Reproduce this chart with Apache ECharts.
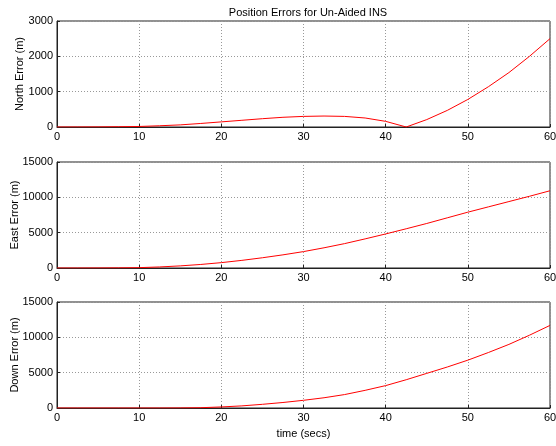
<!DOCTYPE html>
<html>
<head>
<meta charset="utf-8">
<script src="https://cdn.jsdelivr.net/npm/echarts@6/dist/echarts.min.js"></script>
<style>
 html, body { margin: 0; padding: 0; background: #fff; }
 #main { width: 556px; height: 446px; }
</style>
</head>
<body>
<div id="main"></div>
<script>
/** 数据 **/
var time = [0, 2.5, 5, 7.5, 10, 12.5, 15, 17.5, 20, 22.5, 25, 27.5, 30, 32.5, 35, 37.5, 40, 42.5, 45, 47.5, 50, 52.5, 55, 57.5, 60];
var northErr = [0, 1, 3, 8, 15, 35, 60, 100, 145, 190, 235, 275, 300, 310, 300, 255, 160, 0, 210, 470, 780, 1140, 1540, 2000, 2500];
var eastErr = [0, 0, 5, 20, 50, 150, 300, 500, 760, 1080, 1450, 1860, 2320, 2860, 3450, 4120, 4820, 5550, 6300, 7100, 7900, 8650, 9400, 10150, 10930];
var downErr = [0, 0, 0, 0, 0, 0, 10, 40, 150, 300, 520, 780, 1090, 1450, 1900, 2500, 3170, 4000, 4900, 5800, 6770, 7850, 9000, 10300, 11690];
var yNames = ['North Error (m)', 'East Error (m)', 'Down Error (m)'];
var yMax = [3000, 15000, 15000];
var yStep = [1000, 5000, 5000];

var chart = echarts.init(document.getElementById('main'));
var font = 'Liberation Sans, Arial, sans-serif';
var tops = [21, 162, 302];
var nameGaps = [32, 37, 37];

function pairs(arr) {
 return arr.map(function(v, i) { return [time[i], v]; });
}

var grids = [], xAxes = [], yAxes = [], series = [];
var allData = [northErr, eastErr, downErr];
var gridLine = { show: true, lineStyle: { type: [1, 2], color: '#999', width: 1 } };

tops.forEach(function(top, i) {
 grids.push({
  left: 57, right: 6, top: top, height: 106,
  containLabel: false, outerBoundsMode: 'none',
  show: true, borderColor: '#222', borderWidth: 1, backgroundColor: '#fff'
 });
 xAxes.push({
  type: 'value', gridIndex: i, min: 0, max: 60, interval: 10,
  name: i === 2 ? 'time (secs)' : '',
  nameLocation: 'middle', nameGap: 20, nameMoveOverlap: false,
  nameTextStyle: { fontFamily: font, fontSize: 11, color: '#000' },
  axisLine: { lineStyle: { color: '#222', width: 1 } },
  axisTick: { inside: true, length: 3, lineStyle: { color: '#222' } },
  axisLabel: { fontFamily: font, fontSize: 11, color: '#000', margin: 4,
   hideOverlap: false, showMinLabel: true, showMaxLabel: true },
  splitLine: gridLine
 });
 yAxes.push({
  type: 'value', gridIndex: i, min: 0, max: yMax[i], interval: yStep[i],
  name: yNames[i], nameLocation: 'middle', nameGap: nameGaps[i], nameMoveOverlap: false,
  nameTextStyle: { fontFamily: font, fontSize: 11, color: '#000' },
  axisLine: { show: true, lineStyle: { color: '#222', width: 1 } },
  axisTick: { show: true, inside: true, length: 3, lineStyle: { color: '#222' } },
  axisLabel: { fontFamily: font, fontSize: 11, color: '#000', margin: 4,
   formatter: function(v) { return String(v); } },
  splitLine: gridLine
 });
 series.push({
  type: 'line', xAxisIndex: i, yAxisIndex: i,
  data: pairs(allData[i]),
  showSymbol: false, symbol: 'none',
  lineStyle: { color: '#ff0000', width: 1 },
  z: 5
 });
});

var option = {
 animation: false,
 backgroundColor: '#fff',
 title: {
  text: 'Position Errors for Un-Aided INS',
  left: 303, top: 2, textAlign: 'center',
  textStyle: { fontFamily: font, fontSize: 11, fontWeight: 'normal', color: '#000' }
 },
 grid: grids,
 xAxis: xAxes,
 yAxis: yAxes,
 series: series
};
chart.setOption(option);
</script>
</body>
</html>
